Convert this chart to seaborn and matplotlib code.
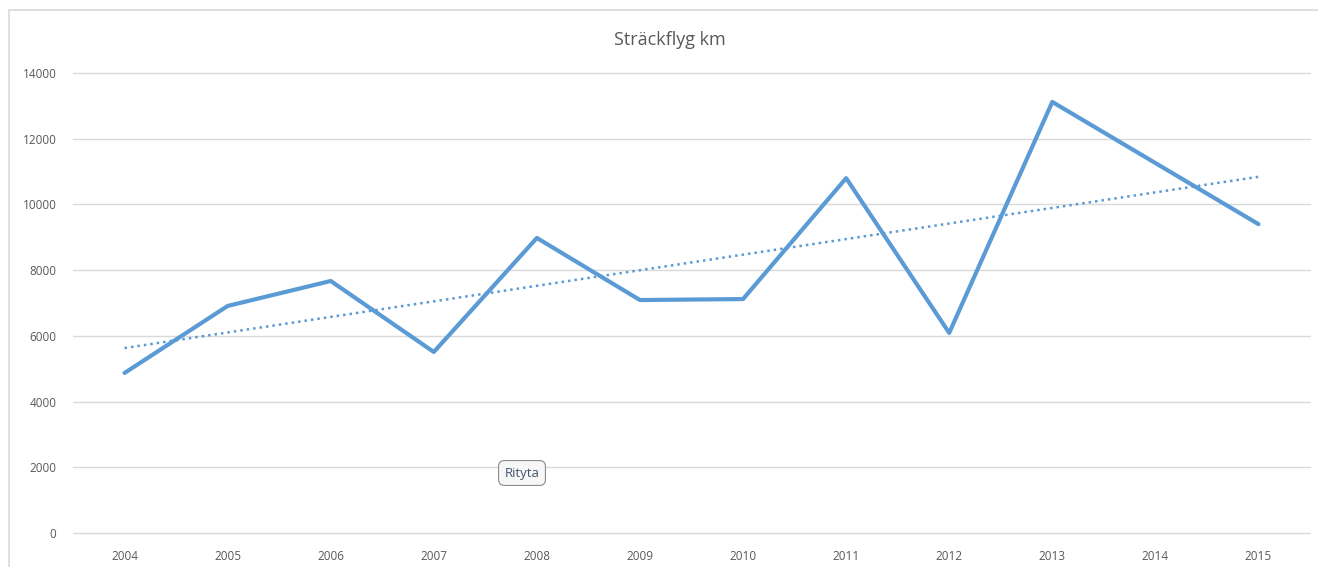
import seaborn as sns
import matplotlib.pyplot as plt
import matplotlib.patches as mpatches
import pandas as pd

years = [2004, 2005, 2006, 2007, 2008, 2009, 2010, 2011, 2012, 2013, 2014, 2015]
km = [4870, 6910, 7670, 5510, 8980, 7090, 7120, 10800, 6090, 13120, 11260, 9400]
y_ticks = [0, 2000, 4000, 6000, 8000, 10000, 12000, 14000]

df = pd.DataFrame({'year': years, 'km': km})

sns.set_style('white')
plt.rcParams['font.family'] = ['Open Sans', 'DejaVu Sans']

fig = plt.figure(figsize=(13.18, 5.67), dpi=100)
ax = fig.add_axes([73 / 1318, 1 - 533 / 567, (1310 - 73) / 1318, (533 - 73) / 567])

# ram runt diagrammet (höger och nederkant utanför bilden)
fig.patches.append(mpatches.Rectangle((9 / 1318, -0.05), 1.05, 1.05 - 10 / 567,
                                      transform=fig.transFigure, fill=False,
                                      edgecolor='#d9d9d9', linewidth=1.2))

# trendlinje (linjär)
sns.regplot(data=df, x='year', y='km', scatter=False, ci=None, ax=ax,
            line_kws=dict(color='#5b9bd5', linestyle=(0, (1, 1.6)), linewidth=1.8))
sns.lineplot(data=df, x='year', y='km', color='#5b9bd5', linewidth=3, ax=ax)

ax.set_xlim(2003.5, 2015.5)
ax.set_ylim(0, 14000)
ax.set_yticks(y_ticks)
ax.set_xticks(years)
ax.set_xticklabels([str(y) for y in years])
ax.yaxis.grid(True, color='#d9d9d9', linewidth=1)
for gl in ax.yaxis.get_gridlines():
    gl.set_clip_on(False)
ax.set_axisbelow(True)
for s in ax.spines.values():
    s.set_visible(False)
ax.tick_params(axis='both', length=0, labelsize=8.5, labelcolor='#595959')
ax.tick_params(axis='x', pad=12)
ax.tick_params(axis='y', pad=12)
ax.set_xlabel('')
ax.set_ylabel('')

fig.text(670 / 1318, 1 - 40 / 567, 'Sträckflyg km', ha='center', va='center',
         fontsize=13, color='#595959')

fig.text(522 / 1318, 1 - 473 / 567, 'Rityta', ha='center', va='center',
         fontsize=9.5, color='#44546a',
         bbox=dict(boxstyle='round,pad=0.45', facecolor='#f7f7f7', edgecolor='#8c8c8c', linewidth=0.8))

plt.savefig('out.png', dpi=100)
